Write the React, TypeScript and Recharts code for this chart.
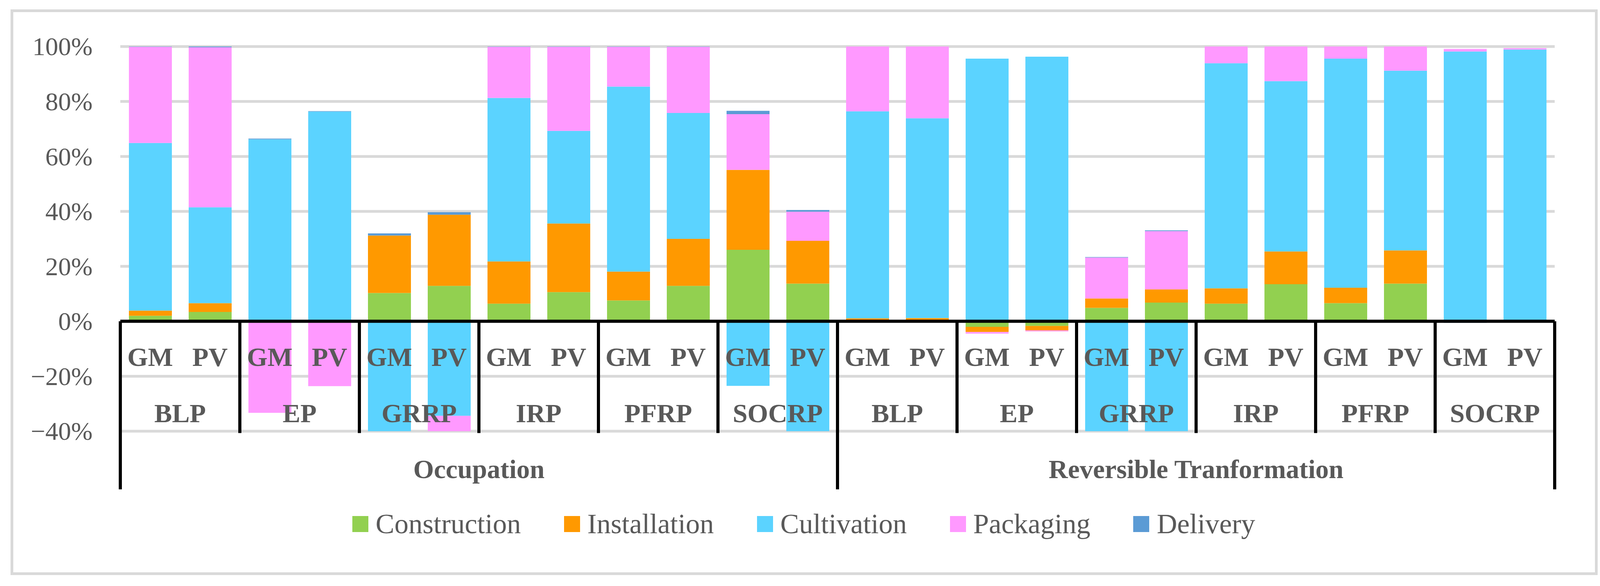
import React from 'react';
import { BarChart, Bar, XAxis, YAxis, CartesianGrid, ReferenceLine, Legend } from 'recharts';

const scenarios = ['Occupation', 'Reversible Tranformation'];
const impacts = ['BLP', 'EP', 'GRRP', 'IRP', 'PFRP', 'SOCRP'];
const variants = ['GM', 'PV'];

// one value per bar, ordered scenario > impact > variant
const construction = [2.0, 3.4, 0, 0, 10.3, 12.9, 6.4, 10.6, 7.6, 12.9, 26.0, 13.7, 0.2, 0.2, -2.0, -1.7, 4.9, 6.8, 6.4, 13.5, 6.6, 13.7, 0, 0];
const installation = [1.9, 3.2, 0, 0, 20.9, 25.9, 15.4, 25.0, 10.5, 17.1, 29.1, 15.6, 0.9, 1.0, -1.9, -1.6, 3.4, 4.8, 5.6, 11.9, 5.6, 12.1, -0.5, 0];
const cultivation = [61.0, 34.9, 66.2, 76.3, -62, -34.4, 59.5, 33.7, 67.3, 45.8, -23.5, -55, 75.3, 72.7, 95.6, 96.3, -58, -66, 81.9, 62.0, 83.4, 65.4, 98.2, 98.9];
const packaging = [35.0, 58.2, -33.3, -23.6, 0, -18, 18.6, 30.6, 14.5, 24.1, 20.3, 10.6, 23.6, 26.1, -0.6, -0.4, 14.9, 21.2, 6.1, 12.6, 4.4, 8.8, 0.9, 0.5];
const delivery = [0.1, 0.3, 0.3, 0.2, 0.8, 0.9, 0.1, 0.1, 0.1, 0.1, 1.2, 0.6, 0, 0, 0, 0, 0.2, 0.3, 0, 0, 0, 0, -0.1, 0];

const yTicks = [-40, -20, 0, 20, 40, 60, 80, 100];

const series = [
  { key: 'construction', name: 'Construction', color: '#92D050', values: construction },
  { key: 'installation', name: 'Installation', color: '#FF9900', values: installation },
  { key: 'cultivation', name: 'Cultivation', color: '#5BD3FF', values: cultivation },
  { key: 'packaging', name: 'Packaging', color: '#FF99FF', values: packaging },
  { key: 'delivery', name: 'Delivery', color: '#5B9BD5', values: delivery },
];

const rows: any[] = [];
scenarios.forEach(scenario => {
  impacts.forEach(impact => {
    variants.forEach(variant => {
      const i = rows.length;
      const row: any = { scenario, impact, variant };
      series.forEach(s => { row[s.key] = s.values[i]; });
      rows.push(row);
    });
  });
});

const W = 4115;
const H = 1499;
const PLOT_TOP = 119;
const PLOT_BOTTOM = 1103;
const PLOT_LEFT = 308;
const PLOT_RIGHT = 3980;
const Y_MIN = -40;
const Y_MAX = 100;
const BAND = (PLOT_RIGHT - PLOT_LEFT) / rows.length;

const FONT = '"Liberation Serif", "DejaVu Serif", serif';
const TEXT = '#595959';

const YTick = (props: any) => {
  const { x, y, payload } = props;
  const v = payload.value;
  return (
    <text x={x} y={y} dy="0.34em" textAnchor="end" fontFamily={FONT} fontSize={66} fill={TEXT}>
      {(v < 0 ? '\u2212' : '') + Math.abs(v) + '%'}
    </text>
  );
};

const XTick = (props: any) => {
  const { x, y, index, payload } = props;
  const zeroY = y - (PLOT_BOTTOM - PLOT_TOP) * (0 - Y_MIN) / (Y_MAX - Y_MIN);
  const half = BAND / 2;
  const perImpact = variants.length;
  const perScenario = variants.length * impacts.length;
  const row = rows[index];
  const label = { fontFamily: FONT, fontSize: 68, fontWeight: 'bold' as const, fill: TEXT, textAnchor: 'middle' as const };
  return (
    <g>
      <text x={x} y={zeroY + 91} dy="0.34em" {...label}>{payload.value}</text>
      {index % perImpact === 0 && (
        <>
          <line x1={x - half} x2={x - half} y1={zeroY} y2={zeroY + (index % perScenario === 0 ? 430 : 286)} stroke="#000" strokeWidth={8} />
          <text x={x + half} y={zeroY + 235} dy="0.34em" {...label}>{row.impact}</text>
        </>
      )}
      {index % perScenario === 0 && (
        <text x={x - half + BAND * perScenario / 2} y={zeroY + 378} dy="0.34em" {...label}>{row.scenario}</text>
      )}
      {index === rows.length - 1 && (
        <line x1={x + half} x2={x + half} y1={zeroY} y2={zeroY + 430} stroke="#000" strokeWidth={8} />
      )}
    </g>
  );
};

const LegendContent = () => (
  <div style={{ display: 'flex', justifyContent: 'center', alignItems: 'center', gap: 110, height: 90, fontFamily: FONT, fontSize: 72, color: TEXT }}>
    {series.map(s => (
      <div key={s.key} style={{ display: 'flex', alignItems: 'center', gap: 19 }}>
        <span style={{ display: 'inline-block', width: 41, height: 41, background: s.color }} />
        <span>{s.name}</span>
      </div>
    ))}
  </div>
);

export default function App() {
  return (
    <div style={{ position: 'absolute', left: 0, top: 0, width: W, height: H, background: '#fff' }}>
      <div style={{ position: 'absolute', left: 27, top: 24, width: 4063, height: 1447, boxSizing: 'border-box', border: '7px solid #d9d9d9' }} />
      <BarChart
        width={W}
        height={H}
        data={rows}
        stackOffset="sign"
        barSize={110}
        margin={{ top: PLOT_TOP, right: W - PLOT_RIGHT, left: 0, bottom: 0 }}
      >
        <CartesianGrid vertical={false} stroke="#d9d9d9" strokeWidth={7} />
        <YAxis
          type="number"
          domain={[Y_MIN, Y_MAX]}
          ticks={yTicks}
          allowDataOverflow
          width={PLOT_LEFT}
          axisLine={false}
          tickLine={false}
          tickSize={0}
          tickMargin={71}
          tick={<YTick />}
        />
        {series.map(s => (
          <Bar key={s.key} dataKey={s.key} name={s.name} stackId="a" fill={s.color} isAnimationActive={false} />
        ))}
        <ReferenceLine y={0} stroke="#000" strokeWidth={8} />
        <XAxis
          dataKey="variant"
          height={H - PLOT_BOTTOM}
          interval={0}
          axisLine={false}
          tickLine={false}
          tickSize={0}
          tickMargin={0}
          tick={XTick}
        />
        <Legend
          verticalAlign="middle"
          align="center"
          content={<LegendContent />}
          wrapperStyle={{ top: 1295, left: 0, width: W }}
        />
      </BarChart>
    </div>
  );
}
